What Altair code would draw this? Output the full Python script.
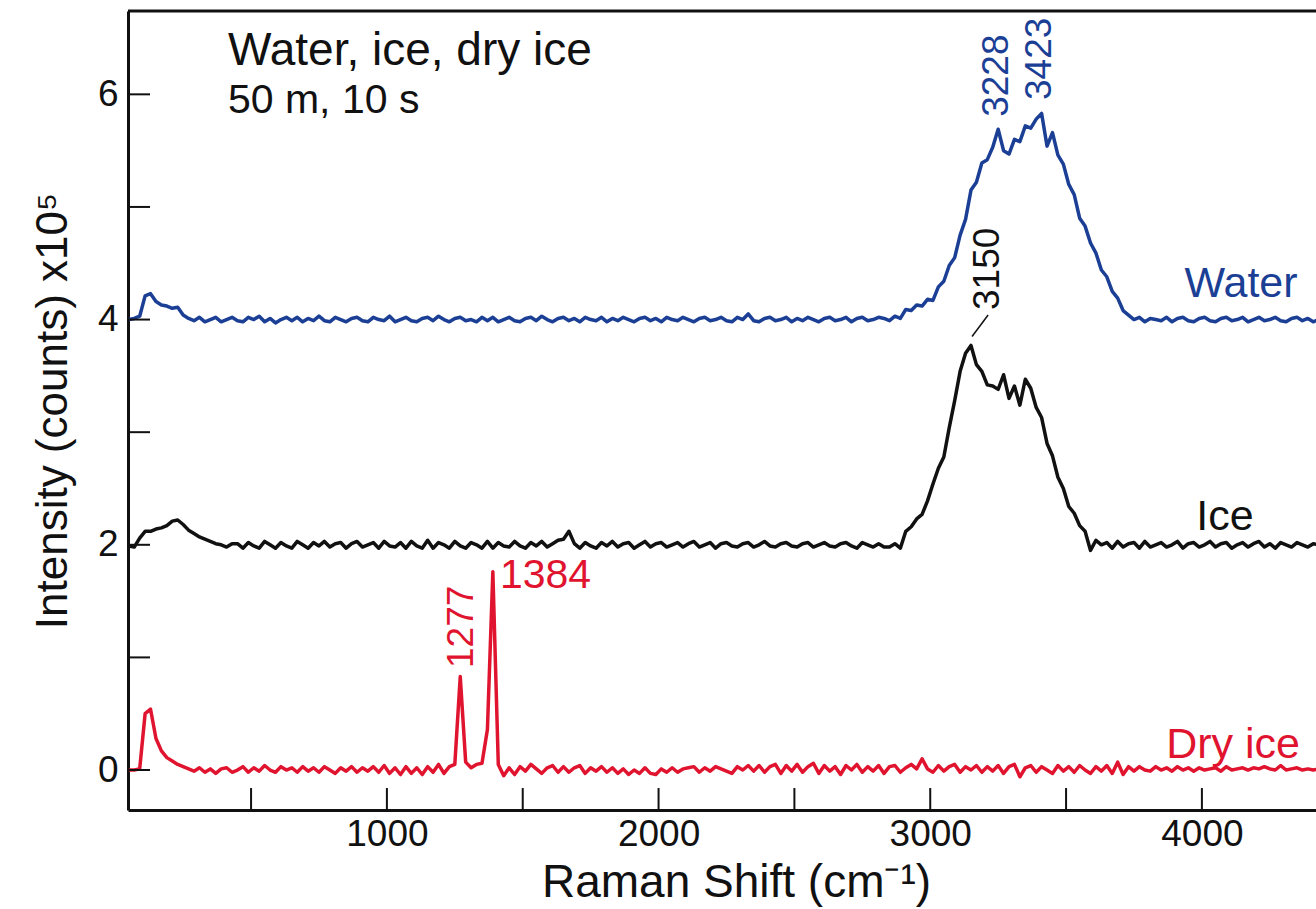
import altair as alt
import pandas as pd

FONT = "Liberation Sans"

# Raman shift sampling (cm^-1)
X = list(range(50, 4431, 20))

SERIES = ["Water", "Ice", "Dry ice"]
COLORS = ["#1c3f96", "#111111", "#e0142f"]

WATER = [
    4.00, 4.01, 4.03, 4.21, 4.23, 4.16, 4.13, 4.12, 4.10, 4.11,
    4.04, 4.01, 3.99, 4.02, 3.98, 4.00, 4.02, 3.98, 4.00, 4.02,
    3.99, 3.98, 4.02, 4.00, 4.03, 3.98, 4.01, 3.97, 4.00, 4.02,
    3.99, 4.02, 3.98, 4.01, 3.99, 4.03, 3.99, 3.98, 4.02, 4.00,
    3.98, 4.01, 4.02, 3.99, 3.98, 4.02, 4.00, 3.99, 4.03, 3.98,
    4.00, 4.02, 3.99, 3.98, 4.01, 4.02, 3.99, 4.03, 4.00, 3.98,
    4.01, 4.02, 3.99, 4.00, 3.98, 4.02, 3.99, 4.02, 3.98, 4.00,
    4.02, 3.99, 3.98, 4.01, 4.02, 3.99, 4.03, 4.00, 3.98, 4.01,
    4.02, 3.99, 4.01, 3.98, 4.02, 4.00, 3.99, 4.02, 3.98, 4.01,
    3.99, 4.02, 4.00, 3.98, 4.01, 4.02, 3.99, 4.01, 3.98, 4.02,
    4.00, 3.99, 4.02, 4.00, 3.98, 4.01, 4.02, 3.99, 4.00, 4.02,
    3.99, 3.98, 4.02, 4.00, 4.05, 3.99, 3.98, 4.01, 4.02, 3.99,
    4.00, 4.02, 3.98, 4.01, 3.99, 4.02, 4.00, 3.98, 4.01, 4.02,
    3.99, 4.00, 4.02, 3.98, 4.01, 4.02, 3.99, 4.00, 4.02, 4.01,
    3.99, 4.03, 4.01, 4.09, 4.08, 4.13, 4.12, 4.18, 4.17, 4.29,
    4.34, 4.48, 4.55, 4.75, 4.89, 5.15, 5.22, 5.39, 5.42, 5.53,
    5.69, 5.50, 5.47, 5.60, 5.58, 5.72, 5.70, 5.78, 5.83, 5.54,
    5.66, 5.46, 5.38, 5.20, 5.11, 4.90, 4.83, 4.68, 4.59, 4.44,
    4.38, 4.25, 4.19, 4.08, 4.04, 4.00, 4.02, 3.98, 4.01, 4.00,
    3.99, 4.02, 3.98, 4.01, 4.02, 3.99, 3.98, 4.01, 4.02, 3.99,
    3.98, 4.01, 4.02, 3.99, 4.00, 4.02, 3.98, 4.00, 4.02, 3.99,
    4.00, 4.02, 3.99, 3.98, 4.01, 4.02, 3.99, 4.01, 3.98, 4.00,
]

ICE = [
    1.99, 1.98, 2.06, 2.12, 2.12, 2.14, 2.15, 2.17, 2.21, 2.22,
    2.18, 2.13, 2.10, 2.07, 2.05, 2.03, 2.01, 2.00, 1.98, 2.01,
    2.01, 1.97, 2.02, 1.99, 1.97, 2.03, 2.00, 1.97, 2.02, 1.99,
    1.97, 2.03, 2.00, 1.97, 2.02, 1.99, 2.03, 1.98, 2.01, 2.02,
    1.97, 2.01, 2.03, 1.98, 2.00, 2.02, 1.97, 2.03, 1.99, 1.98,
    2.02, 1.97, 2.03, 1.99, 1.97, 2.04, 1.97, 2.02, 2.00, 1.97,
    2.03, 1.99, 1.97, 2.02, 2.00, 1.97, 2.03, 1.97, 2.02, 1.99,
    1.98, 2.03, 1.99, 1.97, 2.02, 1.99, 2.03, 1.98, 2.01, 2.04,
    2.05, 2.12, 2.01, 1.97, 2.02, 1.99, 1.97, 2.02, 1.99, 2.03,
    1.98, 2.01, 2.02, 1.97, 2.00, 2.03, 1.98, 2.01, 2.02, 1.98,
    2.00, 2.02, 1.98, 2.01, 2.03, 1.98, 2.00, 2.02, 1.97, 2.01,
    2.02, 1.99, 1.98, 2.01, 2.02, 1.98, 2.00, 2.03, 1.99, 1.98,
    2.01, 2.02, 1.99, 1.98, 2.01, 2.02, 1.98, 2.00, 2.02, 1.99,
    1.98, 2.01, 2.02, 1.99, 1.97, 2.02, 2.00, 1.98, 2.01, 1.98,
    1.98, 2.01, 1.97, 2.12, 2.16, 2.23, 2.27, 2.39, 2.54, 2.68,
    2.78, 3.04, 3.28, 3.54, 3.70, 3.77, 3.60, 3.54, 3.42, 3.41,
    3.38, 3.51, 3.30, 3.41, 3.24, 3.47, 3.39, 3.22, 3.13, 2.90,
    2.79, 2.60, 2.50, 2.34, 2.28, 2.17, 2.12, 1.95, 2.04, 2.00,
    2.02, 1.97, 2.03, 1.98, 2.01, 2.02, 1.97, 2.03, 1.98, 2.00,
    2.02, 1.98, 2.00, 2.03, 1.97, 2.01, 2.02, 1.98, 2.00, 2.03,
    1.98, 2.01, 2.02, 1.97, 2.00, 2.02, 1.98, 2.01, 2.03, 1.98,
    2.01, 1.97, 2.02, 2.00, 1.98, 2.02, 2.00, 1.98, 2.01, 2.00,
]

DRY = [
    0.00, 0.00, 0.01, 0.50, 0.54, 0.28, 0.17, 0.11, 0.08, 0.05,
    0.03, 0.01, -0.01, 0.02, -0.02, 0.01, -0.03, 0.01, 0.02, -0.02,
    0.00, 0.03, -0.02, 0.02, -0.01, 0.04, 0.00, -0.02, 0.03, 0.00,
    0.02, -0.02, 0.03, -0.01, 0.02, -0.02, 0.03, 0.00, -0.03, 0.02,
    -0.01, 0.03, -0.02, 0.02, -0.01, 0.03, -0.02, 0.04, -0.03, 0.02,
    -0.04, 0.03, -0.03, 0.02, -0.04, 0.03, -0.02, 0.05, -0.03, 0.03,
    0.05, 0.83, 0.07, 0.02, 0.05, 0.06, 0.36, 1.76, 0.05, -0.05,
    0.02, -0.04, 0.03, -0.01, 0.05, 0.01, -0.03, 0.02, 0.04, -0.02,
    0.03, -0.02, 0.02, 0.04, -0.03, 0.02, -0.01, 0.03, -0.02, 0.02,
    -0.03, 0.01, -0.04, 0.00, -0.03, 0.02, -0.03, -0.04, 0.01, -0.02,
    0.02, -0.02, 0.01, 0.02, 0.03, -0.02, 0.02, -0.01, 0.03, 0.01,
    -0.01, -0.03, 0.03, 0.00, 0.04, -0.01, 0.04, -0.02, 0.03, 0.05,
    -0.03, 0.04, -0.01, 0.05, -0.02, 0.03, 0.06, -0.03, 0.04, -0.01,
    0.03, -0.04, 0.04, 0.00, 0.05, -0.02, 0.03, -0.01, 0.04, -0.03,
    0.03, 0.04, -0.02, 0.02, 0.05, 0.01, 0.10, 0.01, -0.02, 0.04,
    -0.01, 0.03, 0.05, -0.02, 0.03, 0.00, 0.04, -0.02, 0.03, -0.01,
    0.04, -0.03, 0.03, 0.05, -0.06, 0.02, 0.04, -0.02, 0.03, 0.00,
    -0.03, 0.04, -0.01, 0.03, -0.02, 0.04, 0.00, -0.03, 0.03, -0.01,
    0.04, -0.03, 0.07, -0.04, 0.03, -0.01, 0.03, 0.00, -0.01, 0.03,
    0.00, 0.02, -0.01, 0.03, 0.00, 0.02, -0.01, 0.02, 0.00, 0.01,
    0.02, -0.01, 0.03, 0.00, 0.01, 0.02, 0.00, 0.02, 0.01, 0.03,
    0.01, 0.00, 0.04, 0.00, 0.01, 0.02, 0.00, 0.01, 0.00, 0.01,
]

X_LABELS = [1000, 2000, 3000, 4000]
X_TICKS = [500, 1000, 1500, 2000, 2500, 3000, 3500, 4000]
Y_LABELS = [0, 2, 4, 6]
Y_TICKS = [0, 1, 2, 3, 4, 5, 6]

X_DOMAIN = [47, 4420]
Y_DOMAIN = [-0.355, 6.74]

n = len(X)
df = pd.DataFrame({
    "shift": X * 3,
    "intensity": WATER + ICE + DRY,
    "series": ["Water"] * n + ["Ice"] * n + ["Dry ice"] * n,
})

xs = alt.Scale(domain=X_DOMAIN, nice=False, zero=False)
ys = alt.Scale(domain=Y_DOMAIN, nice=False, zero=False)

AX = alt.Axis(values=X_LABELS, format="d", title="Raman Shift (cm\u207b\u00b9)",
              grid=False, ticks=False, domainColor="#111", domainWidth=3,
              labelFont=FONT, labelFontSize=37, labelColor="#111", labelPadding=6,
              titleFont=FONT, titleFontSize=46, titleFontWeight="normal",
              titleColor="#111", titlePadding=8, titleX=608)
AY = alt.Axis(values=Y_LABELS, format="d", title="Intensity (counts) x10\u2075",
              grid=False, ticks=False, domainColor="#111", domainWidth=3,
              labelFont=FONT, labelFontSize=37, labelColor="#111", labelPadding=10,
              titleFont=FONT, titleFontSize=44, titleFontWeight="normal",
              titleColor="#111", titlePadding=22)

lines = alt.Chart(df).mark_line(strokeWidth=3.5, clip=True, strokeJoin="round").encode(
    x=alt.X("shift:Q", scale=xs, axis=AX),
    y=alt.Y("intensity:Q", scale=ys, axis=AY),
    color=alt.Color("series:N", scale=alt.Scale(domain=SERIES, range=COLORS), legend=None),
)

xtick_df = pd.DataFrame({"shift": X_TICKS})
xticks = alt.Chart(xtick_df).mark_rule(color="#111", strokeWidth=2).encode(
    x=alt.X("shift:Q", scale=xs, axis=AX),
    y=alt.datum(Y_DOMAIN[0]),
    y2=alt.datum(-0.16),
)

ytick_df = pd.DataFrame({"intensity": Y_TICKS})
yticks = alt.Chart(ytick_df).mark_rule(color="#111", strokeWidth=2).encode(
    y=alt.Y("intensity:Q", scale=ys, axis=AY),
    x=alt.datum(X_DOMAIN[0]),
    x2=alt.datum(128),
)

one = pd.DataFrame({"k": [0]})

top_border = alt.Chart(one).mark_rule(color="#111", strokeWidth=3).encode(
    x=alt.datum(X_DOMAIN[0]), x2=alt.datum(X_DOMAIN[1]), y=alt.datum(Y_DOMAIN[1]),
)


def label(text, x, y, color, size, angle=0, align="center", baseline="alphabetic"):
    return alt.Chart(one).mark_text(
        text=text, color=color, fontSize=size, angle=angle, align=align,
        baseline=baseline, font=FONT,
    ).encode(x=alt.datum(x), y=alt.datum(y))


labels = [
    label("Water, ice, dry ice", 415, 6.261, "#111", 46, align="left"),
    label("50 m, 10 s", 415, 5.835, "#111", 41, align="left"),
    label("Water", 4144, 4.20, COLORS[0], 43),
    label("Ice", 4085, 2.13, COLORS[1], 43),
    label("Dry ice", 4115, 0.105, COLORS[2], 43),
    label("1384", 1416, 1.62, COLORS[2], 41, align="left"),
    label("1277", 1276, 0.906, COLORS[2], 37, angle=270, align="left", baseline="middle"),
    label("3228", 3246, 5.80, COLORS[0], 37, angle=270, align="left", baseline="middle"),
    label("3423", 3404, 5.95, COLORS[0], 37, angle=270, align="left", baseline="middle"),
    label("3150", 3213, 4.085, COLORS[1], 37, angle=270, align="left", baseline="middle"),
]

leader = alt.Chart(one).mark_rule(color="#111", strokeWidth=1.5).encode(
    x=alt.datum(3213), y=alt.datum(4.04), x2=alt.datum(3154), y2=alt.datum(3.85),
)

chart = alt.layer(lines, xticks, yticks, top_border, leader, *labels).properties(
    width=1188,
    height=799,
    padding={"left": 128, "top": 11, "right": 0, "bottom": 99},
    autosize=alt.AutoSizeParams(type="none"),
    background="white",
).configure_view(stroke=None)

chart.save("out.html", embed_options={"renderer": "svg", "actions": False})
